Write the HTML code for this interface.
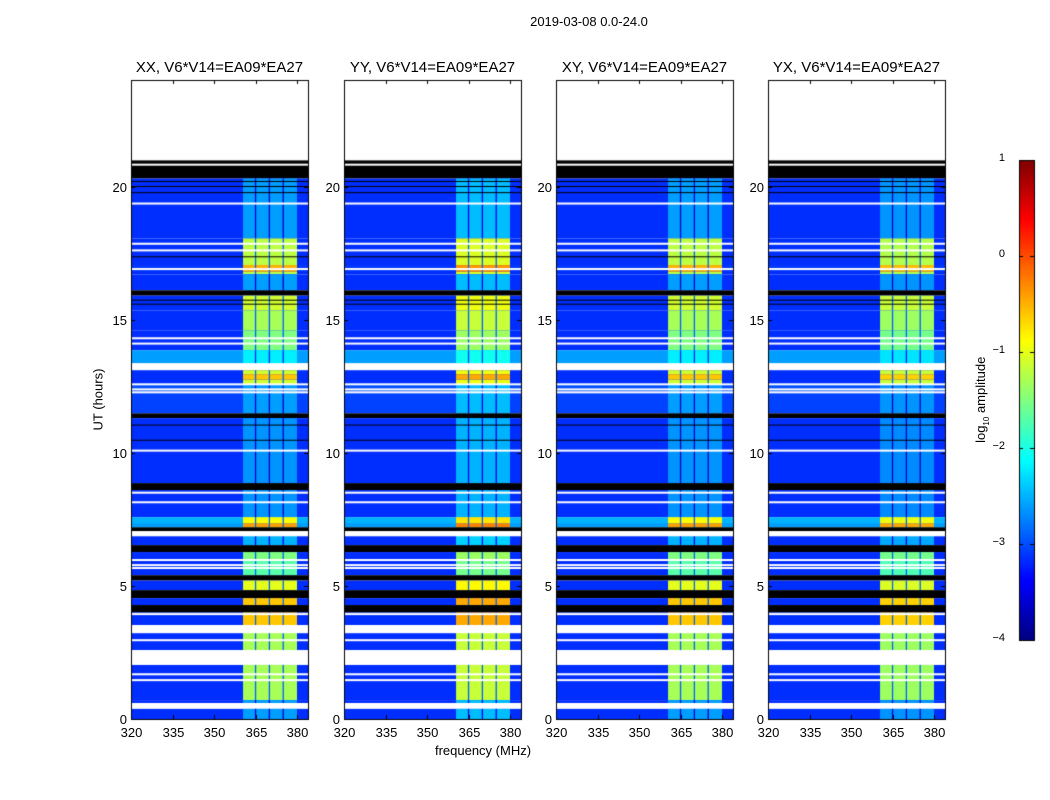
<!DOCTYPE html>
<html><head><meta charset="utf-8">
<style>
body{margin:0;background:#fff;font-family:"Liberation Sans",sans-serif;}
#root{position:relative;width:1050px;height:800px;overflow:hidden;background:#fff;}
.t{position:absolute;font-size:12px;color:#000;white-space:nowrap;}
canvas{position:absolute;}
</style></head>
<body>
<div id="root">
<div class="t" style="left:489px;top:14px;width:200px;text-align:center;font-size:13px;">2019-03-08 0.0-24.0</div>
<div class="t" style="left:48px;top:392px;width:100px;text-align:center;transform:rotate(-90deg);font-size:13px;">UT (hours)</div>
<div class="t" style="left:383px;top:743px;width:200px;text-align:center;font-size:13px;">frequency (MHz)</div>
<div class="t" style="left:922px;top:391px;width:120px;text-align:center;transform:rotate(-90deg);font-size:13px;">log<sub style="font-size:8px">10</sub> amplitude</div>
<canvas id="cv" width="1050" height="800" style="left:0;top:0"></canvas>
</div>
<script>
// ---- data ----
const panelTitles = ["XX, V6*V14=EA09*EA27","YY, V6*V14=EA09*EA27","XY, V6*V14=EA09*EA27","YX, V6*V14=EA09*EA27"];
const panelBandOffset = [0, 0.15, 0, -0.05];
const xTicks = [320,335,350,365,380];
const yTicks = [0,5,10,15,20];
const cbTicks = [1,0,-1,-2,-3,-4];
// [startHour, endHour, background (or 'w' no data / 'k' flagged), bandLevel]
const segments = [
 [20.98,24,'w'],[20.3,20.98,'k'],[18.05,20.3,-3.15,-2.6],[16.7,18.05,-3.15,-1.2],[16.8,17.05,-3.1,-0.5],
 [16.1,16.7,-3.15,-2.6],[15.9,16.1,'k'],[15.35,15.9,-3.15,-1.1],[14.6,15.35,-3.15,-1.3],[13.85,14.6,-3.15,-1.5],
 [13.36,13.85,-2.6,-2.2],[13.1,13.36,'w'],[12.57,13.1,-3.15,-1.1],[12.75,12.95,-3.15,-0.6],[12.27,12.57,-3.0,-2.6],
 [11.48,12.27,-3.05,-2.6],[11.3,11.48,'k'],[8.86,11.3,-3.15,-2.65],[8.6,8.86,'k'],[7.58,8.6,-3.15,-2.65],
 [7.2,7.58,-2.5,-0.9],[7.2,7.35,-2.6,-0.4],[7.05,7.2,'k'],[6.9,7.05,'w'],[6.53,6.9,-3.15,-2.5],[6.27,6.53,'k'],
 [5.97,6.27,-3.15,-1.5],[5.4,5.97,-3.15,-1.7],[5.2,5.4,'k'],[4.84,5.2,-3.15,-1.0],[4.54,4.84,'k'],
 [4.28,4.54,-3.15,-0.6],[4.0,4.28,'k'],[3.53,4.0,-3.15,-0.6],[3.26,3.53,'w'],[2.59,3.26,-3.15,-1.3],
 [2.03,2.59,'w'],[0.71,2.03,-3.15,-1.3],[0.6,0.71,-3.15,-2.6],[0.38,0.6,'w'],[0,0.38,-3.15,-2.6]
];
const whiteLines = [20.82,19.36,17.85,17.6,16.9,14.3,14.1,12.57,12.38,12.27,10.08,8.5,8.14,7.0,6.9,5.97,5.78,5.67,3.94,3.26,2.96,1.68,1.46];
const blackLines = [20.19,20.0,19.77,17.36,15.73,15.58,11.04,10.47];
const bandStart = 360.5, bandEnd = 380, bandGaps = [365,370,375];
// ---- layout ----
const panelX = [131,344,556,768], panelW = 177, yTop = 80, yBot = 719;
const fMin = 320, fMax = 320 + 177/(41.5/15);
const fx = (i,f)=> panelX[i] + (f-fMin)/(fMax-fMin)*panelW;
const hy = h => yBot - h/24*(yBot-yTop);
function jet(v){
  let t = Math.max(0,Math.min(1,(v+4)/5));
  const r = Math.max(0,Math.min(1,Math.min(4*t-1.5,-4*t+4.5)));
  const g = Math.max(0,Math.min(1,Math.min(4*t-0.5,-4*t+3.5)));
  const b = Math.max(0,Math.min(1,Math.min(4*t+0.5,-4*t+2.5)));
  return `rgb(${Math.round(r*255)},${Math.round(g*255)},${Math.round(b*255)})`;
}
const root = document.getElementById('root');
const ctx = document.getElementById('cv').getContext('2d');
function addText(txt,l,t,w,align,name,size){
  const d=document.createElement('div');d.className='t';d.textContent=txt;
  d.style.left=l+'px';d.style.top=t+'px';d.style.width=w+'px';d.style.textAlign=align;
  if(size)d.style.fontSize=size+'px';
  
  
  root.appendChild(d);
}
for(let p=0;p<4;p++){
  const x0=panelX[p];
  for(const s of segments){
    const y1=hy(s[1]), y2=hy(s[0]);
    if(s[2]==='w'){ctx.fillStyle='#fff';ctx.fillRect(x0,y1,panelW,y2-y1);continue;}
    if(s[2]==='k'){ctx.fillStyle='#000';ctx.fillRect(x0,y1,panelW,y2-y1);continue;}
    ctx.fillStyle=jet(s[2]);ctx.fillRect(x0,y1,panelW,y2-y1);
    const bl=s[3]+panelBandOffset[p];
    ctx.fillStyle=jet(bl);
    ctx.fillRect(fx(p,bandStart),y1,fx(p,bandEnd)-fx(p,bandStart),y2-y1);
    ctx.fillStyle=jet(Math.min(bl-1.0,-2.9));
    for(const g of bandGaps){ctx.fillRect(fx(p,g)-0.6,y1,1.3,y2-y1);}
  }
  ctx.fillStyle='#fff';
  for(const h of whiteLines) ctx.fillRect(x0,hy(h)-1,panelW,2);
  ctx.fillStyle='#000';
  for(const h of blackLines) ctx.fillRect(x0,hy(h)-0.5,panelW,1);
  ctx.strokeStyle='#000';ctx.lineWidth=1;
  ctx.strokeRect(x0+0.5,yTop+0.5,panelW,yBot-yTop);
  ctx.beginPath();
  for(const f of xTicks){const x=Math.round(fx(p,f))+0.5;ctx.moveTo(x,yBot);ctx.lineTo(x,yBot-4);ctx.moveTo(x,yTop);ctx.lineTo(x,yTop+4);
    addText(String(f),x-20,725,40,'center','x-tick-label',13);}
  for(const h of yTicks){const y=Math.round(hy(h))+0.5;ctx.moveTo(x0,y);ctx.lineTo(x0+4,y);ctx.moveTo(x0+panelW,y);ctx.lineTo(x0+panelW-4,y);
    addText(String(h),x0-34,y-8,30,'right','y-tick-label',13);}
  ctx.stroke();
  addText(panelTitles[p],x0-30,59,panelW+60,'center','panel-title',15);
}
// colorbar
const cbX=1019,cbW=15,cbT=160,cbB=640;
for(let y=cbT;y<cbB;y++){ctx.fillStyle=jet(1-(y-cbT)/(cbB-cbT)*5);ctx.fillRect(cbX,y,cbW,1);}
ctx.strokeStyle='#000';ctx.strokeRect(cbX+0.5,cbT+0.5,cbW,cbB-cbT);
for(const v of cbTicks){const y=cbT+(1-v)/5*(cbB-cbT);
  ctx.beginPath();ctx.moveTo(cbX,y+0.5);ctx.lineTo(cbX+4,y+0.5);ctx.moveTo(cbX+cbW,y+0.5);ctx.lineTo(cbX+cbW-4,y+0.5);ctx.stroke();
  addText(v<0?'\u2212'+(-v):String(v),cbX-45,y-8,31,'right','colorbar-tick-label',11);}
</script>
</body></html>
